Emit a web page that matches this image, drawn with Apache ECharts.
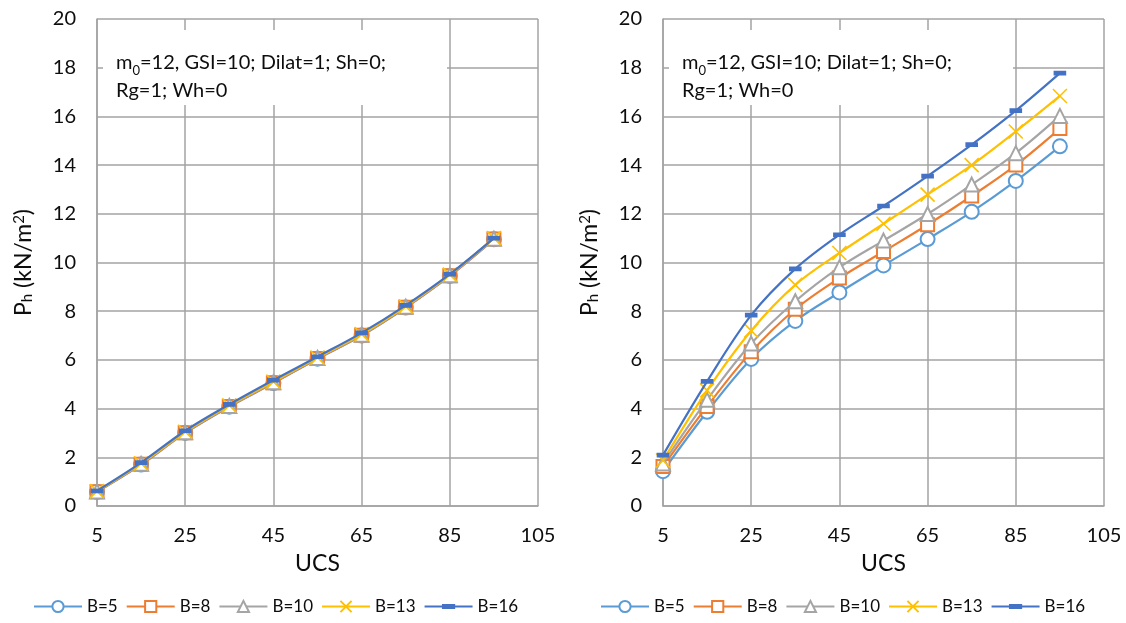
<!DOCTYPE html>
<html>
<head>
<meta charset="utf-8">
<script src="https://cdn.jsdelivr.net/npm/echarts@6/dist/echarts.min.js"></script>
<style>
  html, body { margin: 0; padding: 0; background: #fff; }
  #chart { width: 1126px; height: 623px; }
</style>
</head>
<body>
<div id="chart"></div>
<script>
// x axis categories (UCS); 105 only carries a tick label
const ucsTicks = ['5', '15', '25', '35', '45', '55', '65', '75', '85', '95', '105'];
const seriesNames = ['B=5', 'B=8', 'B=10', 'B=13', 'B=16'];

// left panel values (curves nearly overlap)
const leftB5 = [0.58, 1.70, 3.00, 4.08, 5.05, 6.05, 7.00, 8.15, 9.45, 10.95];
const leftB8 = [0.59, 1.71, 3.01, 4.09, 5.06, 6.06, 7.01, 8.16, 9.46, 10.96];
const leftB10 = [0.60, 1.73, 3.03, 4.11, 5.08, 6.08, 7.03, 8.18, 9.48, 10.98];
const leftB13 = [0.61, 1.75, 3.05, 4.13, 5.11, 6.10, 7.06, 8.20, 9.50, 11.00];
const leftB16 = [0.62, 1.78, 3.09, 4.17, 5.17, 6.13, 7.11, 8.24, 9.52, 11.00];

// right panel values
const rightB5 = [1.43, 3.87, 6.04, 7.60, 8.77, 9.88, 10.96, 12.08, 13.35, 14.77];
const rightB8 = [1.62, 4.09, 6.33, 8.08, 9.36, 10.45, 11.55, 12.73, 14.00, 15.50];
const rightB10 = [1.75, 4.36, 6.67, 8.41, 9.80, 10.90, 11.99, 13.20, 14.49, 16.02];
const rightB13 = [1.87, 4.75, 7.20, 9.08, 10.39, 11.59, 12.79, 14.00, 15.38, 16.84];
const rightB16 = [2.09, 5.12, 7.84, 9.74, 11.14, 12.32, 13.55, 14.84, 16.24, 17.78];

const leftData = [leftB5, leftB8, leftB10, leftB13, leftB16];
const rightData = [rightB5, rightB8, rightB10, rightB13, rightB16];

const colors = ['#5B9BD5', '#ED7D31', '#A5A5A5', '#FFC000', '#4472C4'];
// X marker and a short horizontal dash (square bounding box keeps the dash flat in the legend too)
const symbols = [
  'emptyCircle',
  'emptyRect',
  'emptyTriangle',
  'path://M0,0L10,10M10,0L0,10',
  'path://M0,0M12,12M0,4.3L12,4.3L12,7.7L0,7.7Z'
];
const symbolSizes = [14, 13, 14, 14, 11];

const FONT = 'Lato, "Open Sans", sans-serif';
const gridW = 441, gridH = 487, gridTop = 19;
const gridLefts = [97, 663];
const gridColor = '#a3a3a3';
const textColor = '#0d0d0d';

const chart = echarts.init(document.getElementById('chart'));

function makeSeries(data, idx) {
  return data.map((vals, i) => ({
    name: seriesNames[i],
    type: 'line',
    xAxisIndex: idx,
    yAxisIndex: idx,
    data: vals,
    smooth: 0.35,
    symbol: symbols[i],
    symbolSize: symbolSizes[i],
    showAllSymbol: true,
    z: 3 + i,
    lineStyle: { color: colors[i], width: 2.2 },
    itemStyle: { color: colors[i], borderColor: colors[i], borderWidth: 1.6 },
    emphasis: { disabled: true }
  }));
}

const nameRich = {
  a: { fontSize: 23, fontFamily: FONT, color: textColor },
  s: { fontSize: 15, fontFamily: FONT, color: textColor, verticalAlign: 'bottom' },
  p: { fontSize: 15, fontFamily: FONT, color: textColor, verticalAlign: 'top' }
};

function xAxis(idx) {
  return {
    type: 'category',
    gridIndex: idx,
    data: ucsTicks,
    boundaryGap: false,
    name: 'UCS',
    nameLocation: 'middle',
    nameGap: 46,
    nameTextStyle: { fontSize: 23, fontFamily: FONT, color: textColor },
    axisLine: { lineStyle: { color: gridColor, width: 1.5 } },
    axisTick: { show: false },
    axisLabel: { interval: 1, fontSize: 20, fontFamily: FONT, color: textColor, margin: 20 },
    splitLine: { show: true, interval: 1, lineStyle: { color: gridColor, width: 1.5 } }
  };
}

function yAxis(idx) {
  return {
    type: 'value',
    gridIndex: idx,
    min: 0,
    max: 20,
    interval: 2,
    name: '{a|P}{s|h}{a| (kN/m}{p|2}{a|)}',
    nameLocation: 'middle',
    nameGap: 62,
    nameTextStyle: { rich: nameRich },
    axisLine: { show: true, lineStyle: { color: gridColor, width: 1.5 } },
    axisTick: { show: false },
    axisLabel: { fontSize: 20, fontFamily: FONT, color: textColor, margin: 21 },
    splitLine: { show: true, lineStyle: { color: gridColor, width: 1.5 } }
  };
}

function noteBox(left) {
  return {
    type: 'group',
    z: 10,
    children: [
      { type: 'rect', z: 10, shape: { x: left + 6, y: 30, width: 344, height: 75 }, style: { fill: '#fff' } },
      {
        type: 'text',
        z: 11,
        x: left + 19,
        y: 49,
        style: {
          text: '{a|m}{s|0}{a|=12, GSI=10; Dilat=1; Sh=0;}\n{a|Rg=1; Wh=0}',
          rich: {
            a: { fontSize: 20, fontFamily: FONT, fill: textColor, lineHeight: 28 },
            s: { fontSize: 13, fontFamily: FONT, fill: textColor, lineHeight: 28, verticalAlign: 'bottom' }
          },
          verticalAlign: 'top'
        }
      }
    ]
  };
}

function legend(left) {
  return {
    left: left,
    top: 598,
    width: 540,
    padding: 0,
    itemWidth: 48,
    itemHeight: 14,
    itemGap: 8,
    data: seriesNames,
    textStyle: { fontSize: 17, fontFamily: FONT, color: textColor }
  };
}

chart.setOption({
  animation: false,
  color: colors,
  grid: gridLefts.map(l => ({ left: l, top: gridTop, width: gridW, height: gridH })),
  xAxis: [xAxis(0), xAxis(1)],
  yAxis: [yAxis(0), yAxis(1)],
  legend: [legend(33), legend(600)],
  graphic: [noteBox(gridLefts[0]), noteBox(gridLefts[1])],
  series: makeSeries(leftData, 0).concat(makeSeries(rightData, 1))
});
</script>
</body>
</html>
